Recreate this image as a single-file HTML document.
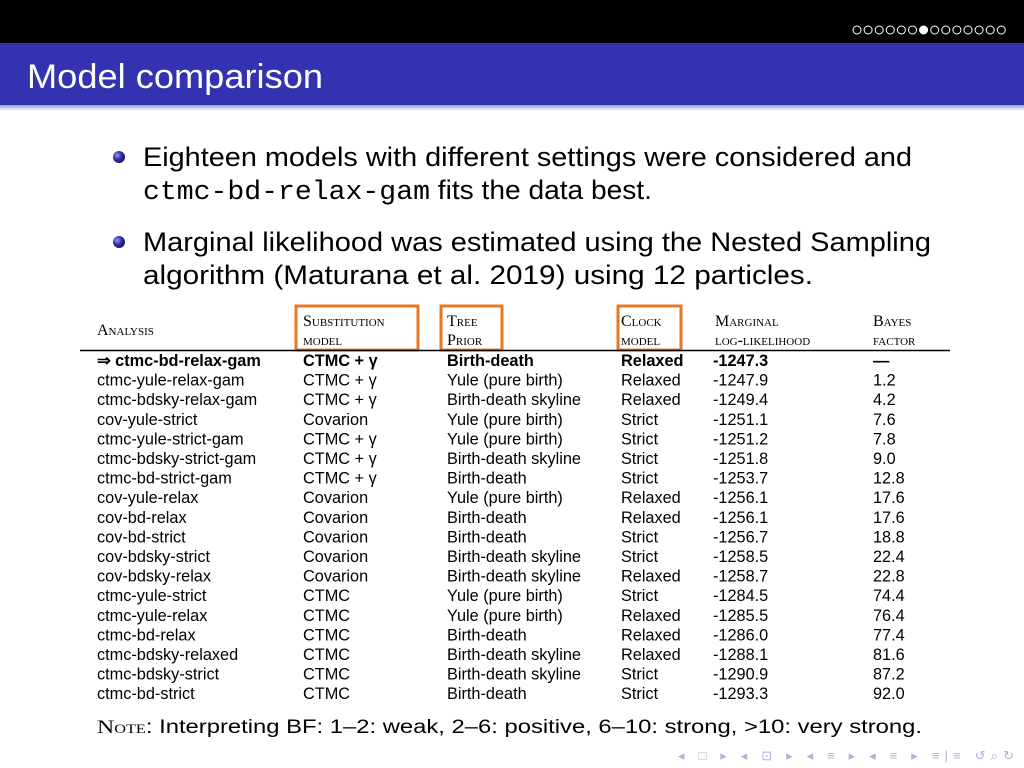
<!DOCTYPE html>
<html><head><meta charset="utf-8"><style>
html,body{margin:0;padding:0;background:#fff;}
svg{display:block;font-family:"Liberation Sans",sans-serif;}
.sc{font-variant:small-caps;font-family:"Liberation Serif",serif;}
</style></head><body>
<svg width="1024" height="768" viewBox="0 0 1024 768">
<defs>
<radialGradient id="ball" cx="0.35" cy="0.35" r="0.7"><stop offset="0" stop-color="#9a9ae6"/><stop offset="0.5" stop-color="#3333b2"/><stop offset="1" stop-color="#141450"/></radialGradient>
<linearGradient id="sh" x1="0" y1="0" x2="0" y2="1"><stop offset="0" stop-color="#9999cc"/><stop offset="1" stop-color="#ffffff"/></linearGradient>
</defs>
<rect x="0" y="0" width="1024" height="43" fill="#000"/>
<g id="dots"></g>
<rect x="0" y="43" width="1024" height="62" fill="#3333b2"/>
<rect x="0" y="105" width="1024" height="6" fill="url(#sh)"/>
<text x="27" y="88" font-size="34" fill="#fff" textLength="296" lengthAdjust="spacingAndGlyphs">Model comparison</text>

<g font-size="27" fill="#000">
<circle cx="119" cy="157" r="6" fill="url(#ball)"/>
<text x="143" y="166" textLength="769" lengthAdjust="spacingAndGlyphs">Eighteen models with different settings were considered and</text>
<text x="143" y="199" textLength="509" lengthAdjust="spacingAndGlyphs"><tspan font-family="Liberation Mono,monospace">ctmc-bd-relax-gam</tspan> fits the data best.</text>
<circle cx="119" cy="242" r="6" fill="url(#ball)"/>
<text x="143" y="251" textLength="788" lengthAdjust="spacingAndGlyphs">Marginal likelihood was estimated using the Nested Sampling</text>
<text x="143" y="284" textLength="670" lengthAdjust="spacingAndGlyphs">algorithm (Maturana et al. 2019) using 12 particles.</text>
</g>

<g font-size="16">
<text x="97" y="335" class="sc">Analysis</text>
<text x="303" y="326" class="sc">Substitution</text><text x="303" y="345" class="sc">model</text>
<text x="447" y="326" class="sc">Tree</text><text x="447" y="345" class="sc">Prior</text>
<text x="621" y="326" class="sc">Clock</text><text x="621" y="345" class="sc">model</text>
<text x="715" y="326" class="sc">Marginal</text><text x="715" y="345" class="sc">log-likelihood</text>
<text x="873" y="326" class="sc">Bayes</text><text x="873" y="345" class="sc">factor</text>
</g>
<g fill="none" stroke="#e87722" stroke-width="3">
<rect x="296" y="306" width="122" height="44"/>
<rect x="441" y="306" width="61" height="44"/>
<rect x="618" y="306" width="63" height="44"/>
</g>
<line x1="80" y1="350.5" x2="950" y2="350.5" stroke="#000" stroke-width="1.5"/>
<g id="rows" font-size="16.3"></g>

<text x="97" y="733" font-size="19" textLength="825" lengthAdjust="spacingAndGlyphs"><tspan class="sc">Note</tspan>: Interpreting BF: 1–2: weak, 2–6: positive, 6–10: strong, &gt;10: very strong.</text>
<text x="678" y="760" font-size="13" fill="#b0b0dd" textLength="336">◂ □ ▸ ◂ ⊡ ▸ ◂ ≡ ▸ ◂ ≡ ▸ ≡|≡ ↺⌕↻</text>
</svg>
<script>
const analyses=["ctmc-bd-relax-gam","ctmc-yule-relax-gam","ctmc-bdsky-relax-gam","cov-yule-strict","ctmc-yule-strict-gam","ctmc-bdsky-strict-gam","ctmc-bd-strict-gam","cov-yule-relax","cov-bd-relax","cov-bd-strict","cov-bdsky-strict","cov-bdsky-relax","ctmc-yule-strict","ctmc-yule-relax","ctmc-bd-relax","ctmc-bdsky-relaxed","ctmc-bdsky-strict","ctmc-bd-strict"];
const subst=["CTMC + γ","CTMC + γ","CTMC + γ","Covarion","CTMC + γ","CTMC + γ","CTMC + γ","Covarion","Covarion","Covarion","Covarion","Covarion","CTMC","CTMC","CTMC","CTMC","CTMC","CTMC"];
const tree=["Birth-death","Yule (pure birth)","Birth-death skyline","Yule (pure birth)","Yule (pure birth)","Birth-death skyline","Birth-death","Yule (pure birth)","Birth-death","Birth-death","Birth-death skyline","Birth-death skyline","Yule (pure birth)","Yule (pure birth)","Birth-death","Birth-death skyline","Birth-death skyline","Birth-death"];
const clock=["Relaxed","Relaxed","Relaxed","Strict","Strict","Strict","Strict","Relaxed","Relaxed","Strict","Strict","Relaxed","Strict","Relaxed","Relaxed","Relaxed","Strict","Strict"];
const loglik=["-1247.3","-1247.9","-1249.4","-1251.1","-1251.2","-1251.8","-1253.7","-1256.1","-1256.1","-1256.7","-1258.5","-1258.7","-1284.5","-1285.5","-1286.0","-1288.1","-1290.9","-1293.3"];
const bf=["—","1.2","4.2","7.6","7.8","9.0","12.8","17.6","17.6","18.8","22.4","22.8","74.4","76.4","77.4","81.6","87.2","92.0"];
const NS="http://www.w3.org/2000/svg";
const g=document.getElementById('rows');
const cols=[[97,analyses],[303,subst],[447,tree],[621,clock],[713,loglik],[873,bf]];
const names=['analysis','substitution','tree-prior','clock','log-likelihood','bayes-factor'];
for(let i=0;i<analyses.length;i++){
  const y=366+i*19.6;
  cols.forEach((c,j)=>{
    const t=document.createElementNS(NS,'text');
    t.setAttribute('x',c[0]);t.setAttribute('y',y);
    let s=c[1][i];
    if(i===0){t.setAttribute('font-weight','bold');if(j===0)s='⇒ '+s;}
    t.textContent=s;
    
    
    g.appendChild(t);
  });
}
const d=document.getElementById('dots');
for(let i=0;i<14;i++){
  const c=document.createElementNS(NS,'circle');
  c.setAttribute('cx',857+i*11.1);c.setAttribute('cy',30);c.setAttribute('r',4);
  c.setAttribute('fill',i===6?'#fff':'none');c.setAttribute('stroke','#fff');c.setAttribute('stroke-width','1');
  
  
  d.appendChild(c);
}
</script>
</body></html>
